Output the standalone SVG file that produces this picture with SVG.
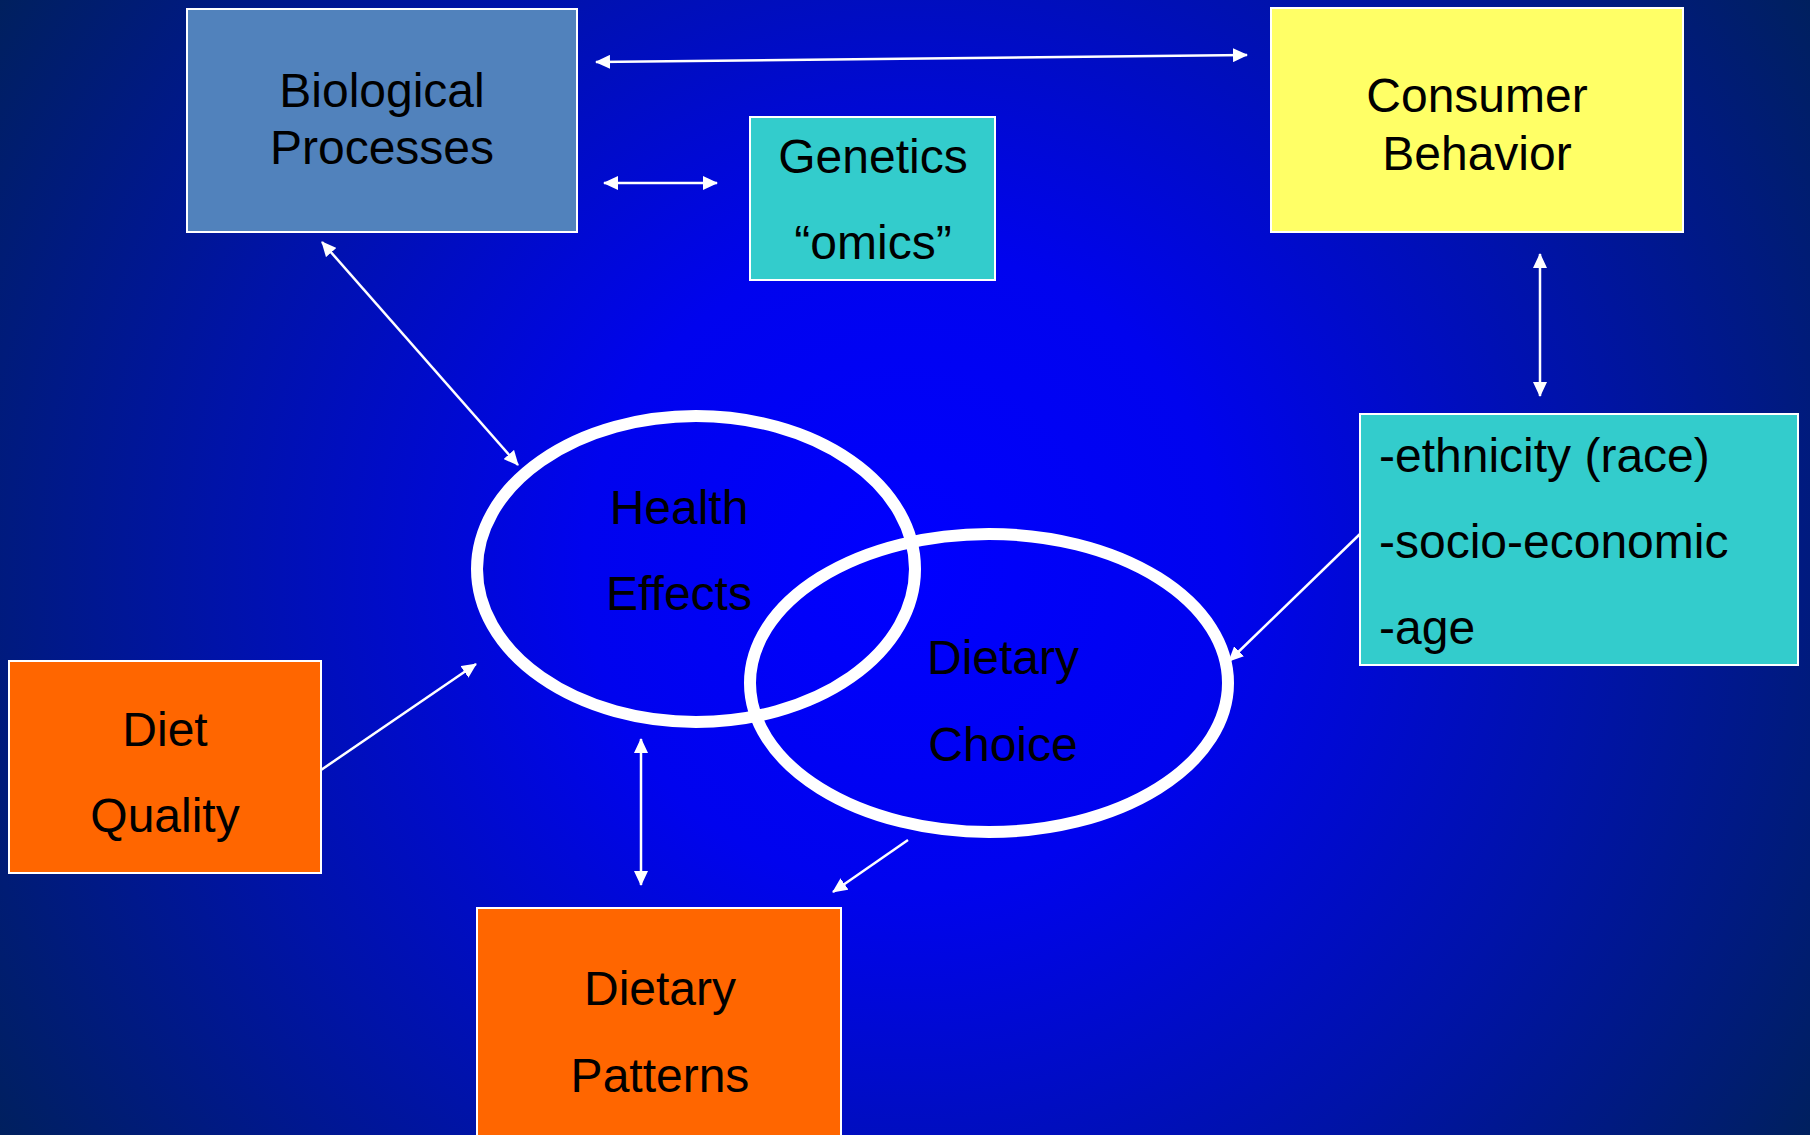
<svg xmlns="http://www.w3.org/2000/svg" width="1810" height="1135" viewBox="0 0 1810 1135">
<defs>
<radialGradient id="bg" gradientUnits="userSpaceOnUse" cx="905" cy="568" r="1070">
<stop offset="0" stop-color="#0000ff"/>
<stop offset="0.3" stop-color="#0003ee"/>
<stop offset="0.65" stop-color="#0013a8"/>
<stop offset="1" stop-color="#00205e"/>
</radialGradient>
<marker id="ah" viewBox="0 0 15 14" refX="14" refY="7" markerWidth="15" markerHeight="14" markerUnits="userSpaceOnUse" orient="auto-start-reverse">
<path d="M0,0 L15,7 L0,14 Z" fill="#ffffff"/>
</marker>
</defs>
<style>
.box{stroke:#ffffff;stroke-width:2}
.t{font-family:"Liberation Sans",Arial,sans-serif;font-size:48px;fill:#000000}
.c{text-anchor:middle}
.ln{stroke:#ffffff;stroke-width:2.5;fill:none}
.ell{fill:none;stroke:#ffffff;stroke-width:12}
</style>
<rect x="0" y="0" width="1810" height="1135" fill="url(#bg)"/>

<g id="health-effects">
<ellipse class="ell" cx="696" cy="569" rx="219" ry="153"/>
<text class="t c" x="679" y="524">Health</text>
<text class="t c" x="679" y="610">Effects</text>
</g>
<g id="dietary-choice">
<ellipse class="ell" cx="989" cy="683" rx="239" ry="149"/>
<text class="t c" x="1003" y="674">Dietary</text>
<text class="t c" x="1003" y="761">Choice</text>
</g>

<g id="biological-processes">
<rect class="box" x="187" y="9" width="390" height="223" fill="#5182bc"/>
<text class="t c" x="382" y="107">Biological</text>
<text class="t c" x="382" y="164">Processes</text>
</g>
<g id="genetics">
<rect class="box" x="750" y="117" width="245" height="163" fill="#33cccc"/>
<text class="t c" x="873" y="173">Genetics</text>
<text class="t c" x="873" y="259">“omics”</text>
</g>
<g id="consumer-behavior">
<rect class="box" x="1271" y="8" width="412" height="224" fill="#ffff66"/>
<text class="t c" x="1477" y="112">Consumer</text>
<text class="t c" x="1477" y="170">Behavior</text>
</g>
<g id="demographics">
<rect class="box" x="1360" y="414" width="438" height="251" fill="#33cccc"/>
<text class="t" x="1379" y="472">-ethnicity (race)</text>
<text class="t" x="1379" y="558">-socio-economic</text>
<text class="t" x="1379" y="644">-age</text>
</g>
<g id="diet-quality">
<rect class="box" x="9" y="661" width="312" height="212" fill="#ff6600"/>
<text class="t c" x="165" y="746">Diet</text>
<text class="t c" x="165" y="832">Quality</text>
</g>
<g id="dietary-patterns">
<rect class="box" x="477" y="908" width="364" height="240" fill="#ff6600"/>
<text class="t c" x="660" y="1005">Dietary</text>
<text class="t c" x="660" y="1092">Patterns</text>
</g>

<g id="connectors">
<line class="ln" x1="596" y1="62" x2="1247" y2="55" marker-start="url(#ah)" marker-end="url(#ah)"/>
<line class="ln" x1="604" y1="183" x2="717" y2="183" marker-start="url(#ah)" marker-end="url(#ah)"/>
<line class="ln" x1="1540" y1="254" x2="1540" y2="396" marker-start="url(#ah)" marker-end="url(#ah)"/>
<line class="ln" x1="322" y1="242" x2="518" y2="465" marker-start="url(#ah)" marker-end="url(#ah)"/>
<line class="ln" x1="321" y1="770" x2="476" y2="664" marker-end="url(#ah)"/>
<line class="ln" x1="641" y1="739" x2="641" y2="885" marker-start="url(#ah)" marker-end="url(#ah)"/>
<line class="ln" x1="908" y1="840" x2="833" y2="892" marker-end="url(#ah)"/>
<line class="ln" x1="1360" y1="534" x2="1229" y2="661" marker-end="url(#ah)"/>
</g>
</svg>
